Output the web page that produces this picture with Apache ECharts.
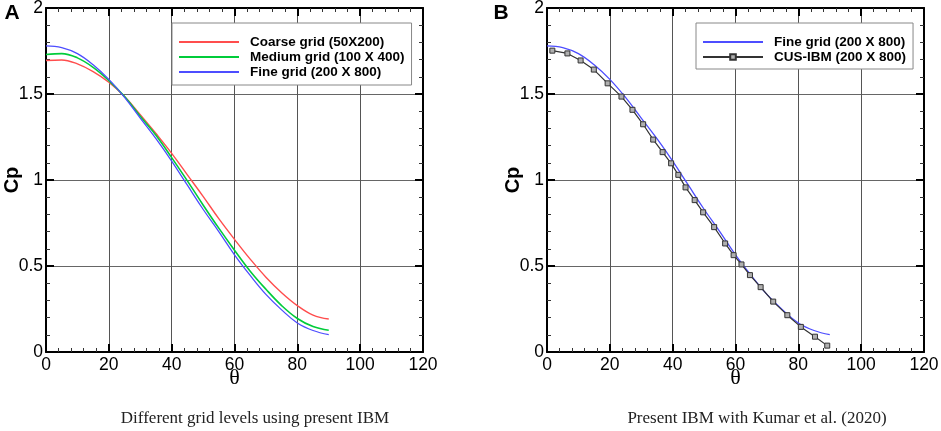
<!DOCTYPE html>
<html>
<head>
<meta charset="utf-8">
<script src="https://cdn.jsdelivr.net/npm/echarts@6/dist/echarts.min.js"></script>
<style>
  html, body { margin: 0; padding: 0; background: #fff; }
  #chart { width: 941px; height: 431px; }
</style>
</head>
<body>
<div id="chart"></div>
<script>
// theta (deg) sampled every 5 degrees for the three grid curves
const thetaGrid = [0, 5, 10, 15, 20, 25, 30, 35, 40, 45, 50, 55, 60, 65, 70, 75, 80, 85, 90];
const cpCoarse = [1.695, 1.698, 1.675, 1.63, 1.568, 1.485, 1.38, 1.27, 1.155, 1.03, 0.905, 0.775, 0.655, 0.54, 0.435, 0.345, 0.27, 0.215, 0.192];
const cpMedium = [1.73, 1.735, 1.71, 1.655, 1.578, 1.485, 1.37, 1.26, 1.13, 0.995, 0.855, 0.72, 0.592, 0.47, 0.365, 0.27, 0.195, 0.148, 0.126];
const cpFine = [1.78, 1.77, 1.735, 1.67, 1.585, 1.48, 1.36, 1.24, 1.11, 0.97, 0.83, 0.70, 0.565, 0.445, 0.335, 0.245, 0.169, 0.125, 0.101];

// CUS-IBM reference points (Kumar et al. 2020)
const thetaCus = [1.7, 6.5, 10.7, 14.9, 19.3, 23.7, 27.2, 30.6, 33.8, 36.8, 39.5, 41.8, 44.1, 47.0, 49.7, 53.2, 56.7, 59.4, 61.9, 64.6, 68.0, 72.0, 76.5, 80.8, 85.3, 89.2];
const cpCus = [1.752, 1.736, 1.695, 1.642, 1.562, 1.485, 1.408, 1.324, 1.235, 1.162, 1.097, 1.03, 0.957, 0.883, 0.812, 0.726, 0.631, 0.563, 0.509, 0.447, 0.377, 0.293, 0.214, 0.146, 0.089, 0.037];

const SANS = "'Liberation Sans', Arial, sans-serif";
const SERIF = "'Liberation Serif', 'Times New Roman', serif";

const zip = (xs, ys) => xs.map((x, i) => [x, ys[i]]);

const chart = echarts.init(document.getElementById("chart"));

// the "2" label pokes above the canvas, so stop v6 from re-fitting the grids
const grids = [
  { left: 46, top: 8, width: 377, height: 344, outerBoundsMode: "none" },
  { left: 547, top: 8, width: 377, height: 344, outerBoundsMode: "none" },
];

// mirror axes (top / right) point at a missing axis so they stay on their own side
const axisLineFor = (main) =>
  main
    ? { show: true, lineStyle: { color: "#000", width: 2 } }
    : { show: true, onZeroAxisIndex: 99, lineStyle: { color: "#000", width: 2 } };

const makeX = (gridIndex, position) => ({
  type: "value",
  gridIndex,
  position,
  min: 0,
  max: 120,
  interval: 20,
  name: position === "bottom" ? "θ" : "",
  nameLocation: "middle",
  nameGap: 15,
  nameMoveOverlap: false,
  nameTextStyle: { fontFamily: SERIF, fontSize: 22, color: "#000" },
  axisLine: axisLineFor(position === "bottom"),
  axisTick: { show: true, inside: true, length: 8, lineStyle: { color: "#000", width: 2 } },
  minorTick: { show: true, splitNumber: 5, length: 4, lineStyle: { color: "#333", width: 1 } },
  axisLabel: { show: position === "bottom", margin: 4, fontFamily: SANS, fontSize: 17.5, color: "#000" },
  splitLine: { show: position === "bottom", lineStyle: { color: "#555", width: 1 } },
});

const makeY = (gridIndex, position) => ({
  type: "value",
  gridIndex,
  position,
  min: 0,
  max: 2,
  interval: 0.5,
  axisLine: axisLineFor(position === "left"),
  axisTick: { show: true, inside: true, length: 8, lineStyle: { color: "#000", width: 2 } },
  minorTick: { show: true, splitNumber: 5, length: 4, lineStyle: { color: "#333", width: 1 } },
  axisLabel: { show: position === "left", margin: 3, fontFamily: SANS, fontSize: 17.5, color: "#000" },
  splitLine: { show: position === "left", lineStyle: { color: "#666", width: 1 } },
});

const legendBase = {
  orient: "vertical",
  itemWidth: 60,
  itemHeight: 7,
  itemGap: 1,
  borderColor: "#888",
  borderWidth: 1,
  backgroundColor: "#fff",
  textStyle: { fontFamily: SANS, fontSize: 13.5, fontWeight: "bold", color: "#000", padding: [0, 0, 0, 6] },
};

const lineOnly = (name) => ({ name, itemStyle: { opacity: 0 } });

const label = (text, x, y, style) => ({
  type: "text",
  x,
  y,
  style: Object.assign({ text, fill: "#000", align: "center", verticalAlign: "middle" }, style),
});

const option = {
  animation: false,
  backgroundColor: "#fff",
  grid: grids,
  xAxis: [makeX(0, "bottom"), makeX(0, "top"), makeX(1, "bottom"), makeX(1, "top")],
  yAxis: [makeY(0, "left"), makeY(0, "right"), makeY(1, "left"), makeY(1, "right")],
  legend: [
    {
      ...legendBase,
      left: 172,
      top: 23,
      padding: [12, 7, 6, 6],
      data: [lineOnly("Coarse grid (50X200)"), lineOnly("Medium grid (100 X 400)"), lineOnly("Fine grid (200 X 800)")],
    },
    {
      ...legendBase,
      left: 696,
      top: 23,
      padding: [12, 7, 5, 6],
      data: [lineOnly("Fine grid (200 X 800)"), { name: "CUS-IBM (200 X 800)" }],
    },
  ],
  series: [
    {
      name: "Coarse grid (50X200)",
      type: "line",
      xAxisIndex: 0,
      yAxisIndex: 0,
      smooth: 0.4,
      showSymbol: false,
      lineStyle: { color: "#ff4d4d", width: 1.4 },
      itemStyle: { color: "#ff4d4d" },
      data: zip(thetaGrid, cpCoarse),
    },
    {
      name: "Medium grid (100 X 400)",
      type: "line",
      xAxisIndex: 0,
      yAxisIndex: 0,
      smooth: 0.4,
      showSymbol: false,
      lineStyle: { color: "#00cc3a", width: 1.6 },
      itemStyle: { color: "#00cc3a" },
      data: zip(thetaGrid, cpMedium),
    },
    {
      name: "Fine grid (200 X 800)",
      type: "line",
      xAxisIndex: 0,
      yAxisIndex: 0,
      smooth: 0.4,
      showSymbol: false,
      lineStyle: { color: "#4d4dff", width: 1.3 },
      itemStyle: { color: "#4d4dff" },
      data: zip(thetaGrid, cpFine),
    },
    {
      name: "Fine grid (200 X 800)",
      type: "line",
      xAxisIndex: 2,
      yAxisIndex: 2,
      smooth: 0.4,
      showSymbol: false,
      lineStyle: { color: "#4d4dff", width: 1.3 },
      itemStyle: { color: "#4d4dff" },
      data: zip(thetaGrid, cpFine),
    },
    {
      name: "CUS-IBM (200 X 800)",
      type: "line",
      xAxisIndex: 2,
      yAxisIndex: 2,
      symbol: "rect",
      symbolSize: 5,
      lineStyle: { color: "#333", width: 1.2 },
      itemStyle: { color: "#b0b0b0", borderColor: "#333", borderWidth: 1 },
      data: zip(thetaCus, cpCus),
    },
  ],
  graphic: [
    label("A", 12, 13, { fontFamily: SANS, fontSize: 21, fontWeight: "bold" }),
    label("B", 501, 13, { fontFamily: SANS, fontSize: 21, fontWeight: "bold" }),
    Object.assign(label("Cp", 12, 180, { fontFamily: SANS, fontSize: 20, fontWeight: "bold" }), { rotation: Math.PI / 2 }),
    Object.assign(label("Cp", 513, 180, { fontFamily: SANS, fontSize: 20, fontWeight: "bold" }), { rotation: Math.PI / 2 }),
    label("Different grid levels using present IBM", 255, 419, { fontFamily: SERIF, fontSize: 17, fill: "#222" }),
    label("Present IBM with Kumar et al. (2020)", 757, 419, { fontFamily: SERIF, fontSize: 17, fill: "#222" }),
  ],
};

chart.setOption(option);
window.addEventListener("resize", chart.resize);
</script>
</body>
</html>
